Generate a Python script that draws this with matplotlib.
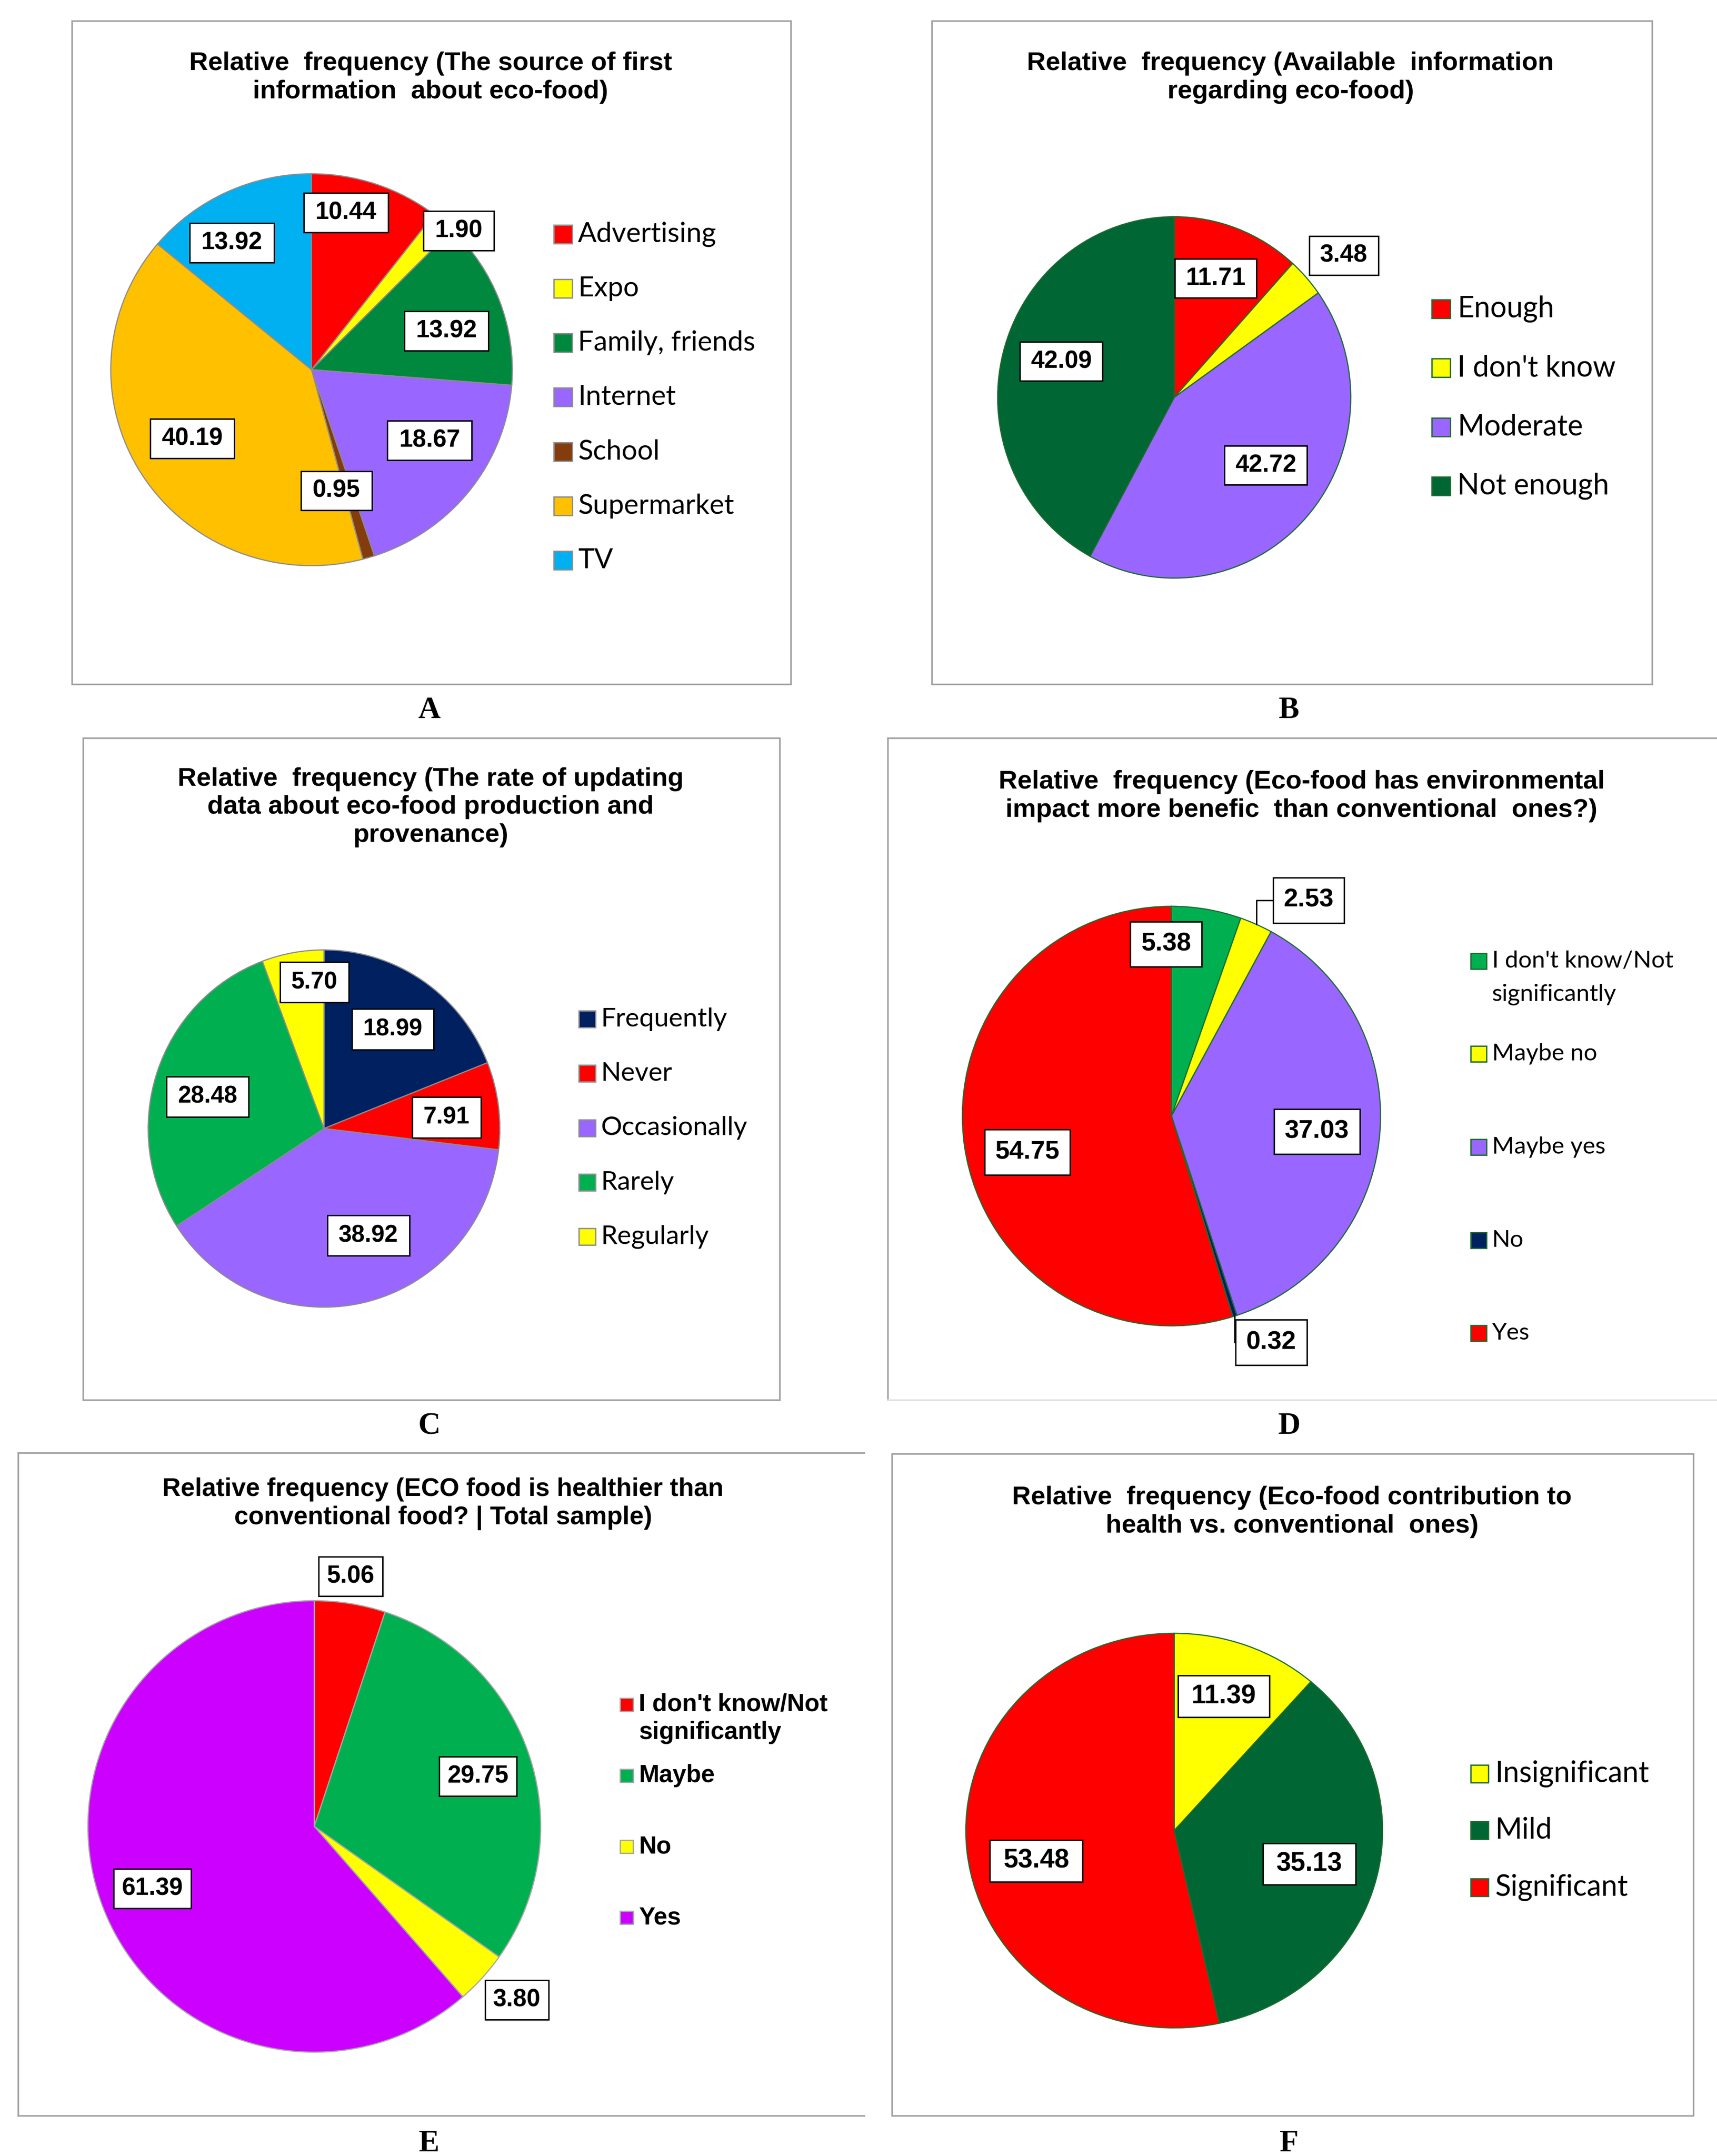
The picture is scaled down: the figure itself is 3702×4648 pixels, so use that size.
import numpy as np
import matplotlib
matplotlib.use('Agg')
import matplotlib.pyplot as plt
from matplotlib.patches import Rectangle
from matplotlib.lines import Line2D

# ---- data ----
a_labels = ['Advertising', 'Expo', 'Family, friends', 'Internet', 'School', 'Supermarket', 'TV']
a_values = [10.44, 1.90, 13.92, 18.67, 0.95, 40.19, 13.92]
a_colors = ['#FF0000', '#FFFF00', '#00883E', '#9966FF', '#843C0C', '#FFC000', '#00B0F0']

b_labels = ['Enough', "I don't know", 'Moderate', 'Not enough']
b_values = [11.71, 3.48, 42.72, 42.09]
b_colors = ['#FF0000', '#FFFF00', '#9966FF', '#006633']

c_labels = ['Frequently', 'Never', 'Occasionally', 'Rarely', 'Regularly']
c_values = [18.99, 7.91, 38.92, 28.48, 5.70]
c_colors = ['#002060', '#FF0000', '#9966FF', '#00B050', '#FFFF00']

d_labels = ["I don't know/Not\nsignificantly", 'Maybe no', 'Maybe yes', 'No', 'Yes']
d_values = [5.38, 2.53, 37.03, 0.32, 54.75]
d_colors = ['#00B050', '#FFFF00', '#9966FF', '#002060', '#FF0000']

e_labels = ["I don't know/Not\nsignificantly", 'Maybe', 'No', 'Yes']
e_values = [5.06, 29.75, 3.80, 61.39]
e_colors = ['#FF0000', '#00B050', '#FFFF00', '#CC00FF']

f_labels = ['Insignificant', 'Mild', 'Significant']
f_values = [11.39, 35.13, 53.48]
f_colors = ['#FFFF00', '#006633', '#FF0000']

titles = {
    'A': 'Relative  frequency (The source of first\ninformation  about eco-food)',
    'B': 'Relative  frequency (Available  information\nregarding eco-food)',
    'C': 'Relative  frequency (The rate of updating\ndata about eco-food production and\nprovenance)',
    'D': 'Relative  frequency (Eco-food has environmental\nimpact more benefic  than conventional  ones?)',
    'E': 'Relative frequency (ECO food is healthier than\nconventional food? | Total sample)',
    'F': 'Relative  frequency (Eco-food contribution to\nhealth vs. conventional  ones)',
}

# ---- layout (positions given on a 1240 x 1557 grid) ----
W, H = 1240.0, 1557.0

panels = {
    'A': dict(labels=a_labels, values=a_values, colors=a_colors, edge='#8C8C8C',
              center=(225, 267), r=(145, 141.5), frame=(52, 15, 571, 494), title_xy=(311, 56),
              lab_off=[-6.7, 4.9, 4.1, -6.6, 5.2, 1.9, -6.4],
              lab_dist=[0.82, 1.02, 0.70, 0.69, 0.63, 0.69, 0.76],
              lab_size=38, lab_pad=0.47, lab_asp=0.7,
              leg_xy=(400, 169), leg_pitch=39.3, leg_box=40, leg_gap=4, leg_font='Lato', leg_size=43,
              leg_weight='normal', leg_edge='#8C8C8C', letter_xy=(310, 513)),
    'B': dict(labels=b_labels, values=b_values, colors=b_colors, edge='#1E6B30',
              center=(848, 287), r=(127.5, 130.5), frame=(673, 15, 1193, 494), title_xy=(932, 56),
              lab_off=[-1.5, 2.3, -5.7, 3.0],
              lab_dist=[0.70, 1.24, 0.64, 0.67],
              lab_size=38, lab_pad=0.44, lab_asp=0.73,
              leg_xy=(1034, 223), leg_pitch=42.7, leg_box=40, leg_gap=5, leg_font='Lato', leg_size=45,
              leg_weight='normal', leg_edge='#1E6B30', letter_xy=(931, 513)),
    'C': dict(labels=c_labels, values=c_values, colors=c_colors, edge='#8C8C8C',
              center=(234, 815), r=(127, 129), frame=(60, 533, 563, 1011), title_xy=(311, 583),
              lab_off=[1.0, 2.3, -9.8, -3.1, 6.4],
              lab_dist=[0.68, 0.70, 0.65, 0.685, 0.82],
              lab_size=37, lab_pad=0.47, lab_asp=0.79,
              leg_xy=(418, 736), leg_pitch=39.3, leg_box=36, leg_gap=4, leg_font='Lato', leg_size=41,
              leg_weight='normal', leg_edge='#8C8C8C', letter_xy=(310, 1030)),
    'D': dict(labels=d_labels, values=d_values, colors=d_colors, edge='#1E6B30',
              center=(846, 806), r=(151, 151.5), frame=None, title_xy=(940, 575),
              lab_off=[-11.5, 8.6, 0.9, -6.2, -5.5],
              lab_dist=[0.82, 1.22, 0.70, 1.18, 0.71],
              leaders=[1, 3],
              lab_size=40, lab_pad=0.41, lab_asp=1.0,
              leg_xy=(1062, 694), leg_pitch=67.2, leg_line=24, leg_box=34, leg_gap=4, leg_font='Lato',
              leg_size=37, leg_weight='normal', leg_edge='#1E6B30', letter_xy=(931, 1030)),
    'E': dict(labels=e_labels, values=e_values, colors=e_colors, edge='#A6A6A6',
              center=(227, 1319), r=(163.5, 163), frame=None, title_xy=(320, 1086),
              lab_off=[-0.9, 1.2, -1.5, -0.6],
              lab_dist=[1.12, 0.755, 1.18, 0.767],
              lab_size=38, lab_pad=0.33, lab_asp=1.0,
              title_size=39.5,
              leg_xy=(448, 1231), leg_pitch=51.3, leg_line=20, leg_box=28, leg_gap=4,
              leg_font='Liberation Sans', leg_size=38, leg_weight='bold', leg_edge='#A6A6A6',
              letter_xy=(310, 1548)),
    'F': dict(labels=f_labels, values=f_values, colors=f_colors, edge='#1E6B30',
              center=(848, 1322), r=(150.5, 142.5), frame=(644, 1050, 1223, 1528), title_xy=(933, 1092),
              lab_off=[-1.2, 0.4, -6.8],
              lab_dist=[0.72, 0.67, 0.68],
              lab_size=41, lab_pad=0.5, lab_asp=0.63,
              leg_xy=(1062, 1281), leg_pitch=41, leg_box=38, leg_gap=5, leg_font='Lato', leg_size=45,
              leg_weight='normal', leg_edge='#1E6B30', letter_xy=(931, 1548)),
}

FRAME = '#A0A0A0'
PXW = 3702.0 / W  # output pixels per layout unit


def fxy(x, y):
    return x / W, 1 - y / H


def draw_panel(fig, key, p):
    # frame
    if p['frame'] is not None:
        x0, y0, x1, y1 = p['frame']
        fig.add_artist(Rectangle(fxy(x0, y1), (x1 - x0) / W, (y1 - y0) / H, transform=fig.transFigure,
                                 fill=False, ec=FRAME, lw=2.5))

    # title
    tx, ty = fxy(*p['title_xy'])
    fig.text(tx, ty, titles[key], ha='center', va='center', fontsize=p.get('title_size', 40.5),
             family='Liberation Sans', weight='bold', linespacing=1.22)

    # pie
    cx, cy = p['center']
    rx, ry = p['r']
    m = 1.03
    x0, y0 = fxy(cx - rx * m, cy + ry * m)
    ax = fig.add_axes([x0, y0, 2 * rx * m / W, 2 * ry * m / H])
    wedges, _ = ax.pie(p['values'], colors=p['colors'], startangle=90, counterclock=False,
                       wedgeprops=dict(edgecolor=p['edge'], linewidth=1.8))
    ax.set_aspect('auto')
    ax.set_xlim(-m, m)
    ax.set_ylim(-m, m)
    ax.axis('off')

    leaders = p.get('leaders', [])
    for i, (w, v) in enumerate(zip(wedges, p['values'])):
        mid = np.deg2rad((w.theta1 + w.theta2) / 2)
        ang = mid - np.deg2rad(p['lab_off'][i])
        d = p['lab_dist'][i]
        pos = (d * np.cos(ang), d * np.sin(ang))
        box = dict(boxstyle='square,pad=%.2f' % p['lab_pad'], mutation_aspect=p['lab_asp'],
                   fc='white', ec='black', lw=2.2)
        if i in leaders:
            edge_pt = (np.cos(mid), np.sin(mid))
            ax.annotate(f'{v:.2f}', xy=edge_pt, xytext=pos, ha='center', va='center',
                        fontsize=p['lab_size'], family='Liberation Sans', weight='bold', bbox=box,
                        arrowprops=dict(arrowstyle='-', color='black', lw=2.2,
                                        connectionstyle='angle,angleA=0,angleB=90,rad=0',
                                        shrinkA=0, shrinkB=0),
                        annotation_clip=False)
        else:
            ax.text(pos[0], pos[1], f'{v:.2f}', ha='center', va='center', fontsize=p['lab_size'],
                    family='Liberation Sans', weight='bold', bbox=box, clip_on=False)

    # legend
    lx, ly = p['leg_xy']
    box_px = p['leg_box']
    bw = box_px / 3702.0
    bh = box_px / 4648.0
    for i, (lab, col) in enumerate(zip(p['labels'], p['colors'])):
        yc = ly + i * p['leg_pitch']
        bx, by = fxy(lx, yc)
        fig.add_artist(Rectangle((bx, by - bh / 2), bw, bh, transform=fig.transFigure,
                                 fc=col, ec=p['leg_edge'], lw=2.0))
        text_x = lx + box_px / PXW + p['leg_gap']
        for j, line in enumerate(lab.split('\n')):
            tx, ty = fxy(text_x, yc + j * p.get('leg_line', 0))
            fig.text(tx, ty, line, ha='left', va='center', fontsize=p['leg_size'],
                     family=p['leg_font'], weight=p['leg_weight'])

    # panel letter
    lx, ly = fxy(*p['letter_xy'])
    fig.text(lx, ly, key, ha='center', va='center', fontsize=48, family='Liberation Serif', weight='bold')


def main():
    fig = plt.figure(figsize=(37.02, 46.48), dpi=100)

    # open frames for D and E
    def line(xs, ys, color=FRAME):
        fig.add_artist(Line2D([x / W for x in xs], [1 - y / H for y in ys], transform=fig.transFigure,
                              color=color, lw=2.5))
    line([641, 641], [533, 1011])
    line([641, 1240], [533, 533])
    line([641, 1240], [1011, 1011], color='#E0E0E0')
    line([13, 13], [1049, 1528])
    line([13, 624], [1049, 1049])
    line([13, 624], [1528, 1528])

    for key, p in panels.items():
        draw_panel(fig, key, p)

    fig.savefig('out.png', dpi=100, facecolor='white')


if __name__ == '__main__':
    main()
